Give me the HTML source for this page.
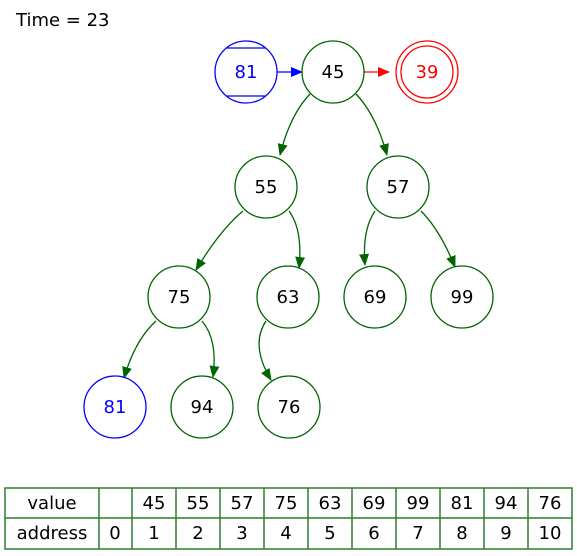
<!DOCTYPE html>
<html><head><style>body{margin:0;background:#fff}svg{display:block}text{font-family:"DejaVu Sans","Liberation Sans",sans-serif;font-size:18px}</style></head><body>
<svg width="577" height="556" viewBox="0 0 577 556" xmlns="http://www.w3.org/2000/svg">
<defs>
<marker id="g" markerWidth="12" markerHeight="10" refX="11" refY="5" orient="auto" markerUnits="userSpaceOnUse"><path d="M0,0 L12,5 L0,10z" fill="#006400"/></marker>
<marker id="b" markerWidth="12" markerHeight="10" refX="11" refY="5" orient="auto" markerUnits="userSpaceOnUse"><path d="M0,0 L12,5 L0,10z" fill="#0000ff"/></marker>
<marker id="r" markerWidth="12" markerHeight="10" refX="11" refY="5" orient="auto" markerUnits="userSpaceOnUse"><path d="M0,0 L12,5 L0,10z" fill="#ff0000"/></marker>
</defs>
<text x="16" y="26" fill="#000">Time = 23</text>
<g fill="none" stroke-width="1.3">
<line x1="277" y1="72" x2="302" y2="72" stroke="#0000ff" marker-end="url(#b)"/>
<line x1="364" y1="72" x2="389" y2="72" stroke="#ff0000" marker-end="url(#r)"/>
<g stroke="#006400" marker-end="url(#g)">
<path d="M310,94 Q290,115 280,155"/>
<path d="M356,94 Q376,115 387,155"/>
<path d="M243,211 Q220,230 196,270"/>
<path d="M289,211 Q303,230 299,268"/>
<path d="M375,211 Q362,230 365,265"/>
<path d="M421,211 Q440,230 455,267"/>
<path d="M156,321 Q135,340 124,378"/>
<path d="M202,321 Q218,340 213,377"/>
<path d="M266,321 Q250,345 271,380"/>
</g>
</g>
<g fill="#fff" stroke="#006400" stroke-width="1.3">
<circle cx="333" cy="72" r="31"/>
<circle cx="266" cy="187" r="31"/>
<circle cx="398" cy="187" r="31"/>
<circle cx="179" cy="297" r="31"/>
<circle cx="288" cy="297" r="31"/>
<circle cx="375" cy="297" r="31"/>
<circle cx="462" cy="297" r="31"/>
<circle cx="202" cy="407" r="31"/>
<circle cx="289" cy="407" r="31"/>
</g>
<circle cx="246" cy="72" r="31" fill="#fff" stroke="#0000ff" stroke-width="1.3"/>
<line x1="226" y1="48" x2="266" y2="48" stroke="#0000ff" stroke-width="1.3"/>
<line x1="226" y1="96" x2="266" y2="96" stroke="#0000ff" stroke-width="1.3"/>
<circle cx="115" cy="407" r="31" fill="#fff" stroke="#0000ff" stroke-width="1.3"/>
<circle cx="427" cy="72" r="31" fill="#fff" stroke="#ff0000" stroke-width="1.3"/>
<circle cx="427" cy="72" r="26" fill="none" stroke="#ff0000" stroke-width="1.3"/>
<g text-anchor="middle">
<text x="246" y="78" fill="#0000ff">81</text>
<text x="333" y="78">45</text>
<text x="427" y="78" fill="#ff0000">39</text>
<text x="266" y="193">55</text>
<text x="398" y="193">57</text>
<text x="179" y="303">75</text>
<text x="288" y="303">63</text>
<text x="375" y="303">69</text>
<text x="462" y="303">99</text>
<text x="115" y="413" fill="#0000ff">81</text>
<text x="202" y="413">94</text>
<text x="289" y="413">76</text>
</g>
<g stroke="#2e7d2e" stroke-width="1.5" fill="none">
<rect x="5" y="488" width="567" height="61"/>
<line x1="5" y1="518" x2="572" y2="518"/>
<line x1="99" y1="488" x2="99" y2="549"/>
<line x1="132" y1="488" x2="132" y2="549"/>
<line x1="176" y1="488" x2="176" y2="549"/>
<line x1="220" y1="488" x2="220" y2="549"/>
<line x1="264" y1="488" x2="264" y2="549"/>
<line x1="308" y1="488" x2="308" y2="549"/>
<line x1="352" y1="488" x2="352" y2="549"/>
<line x1="396" y1="488" x2="396" y2="549"/>
<line x1="440" y1="488" x2="440" y2="549"/>
<line x1="484" y1="488" x2="484" y2="549"/>
<line x1="528" y1="488" x2="528" y2="549"/>
</g>
<g text-anchor="middle">
<text x="52" y="509">value</text><text x="52" y="539">address</text>
<text x="115" y="539">0</text>
<text x="154" y="509">45</text><text x="154" y="539">1</text>
<text x="198" y="509">55</text><text x="198" y="539">2</text>
<text x="242" y="509">57</text><text x="242" y="539">3</text>
<text x="286" y="509">75</text><text x="286" y="539">4</text>
<text x="330" y="509">63</text><text x="330" y="539">5</text>
<text x="374" y="509">69</text><text x="374" y="539">6</text>
<text x="418" y="509">99</text><text x="418" y="539">7</text>
<text x="462" y="509">81</text><text x="462" y="539">8</text>
<text x="506" y="509">94</text><text x="506" y="539">9</text>
<text x="550" y="509">76</text><text x="550" y="539">10</text>
</g>
</svg>
</body></html>
